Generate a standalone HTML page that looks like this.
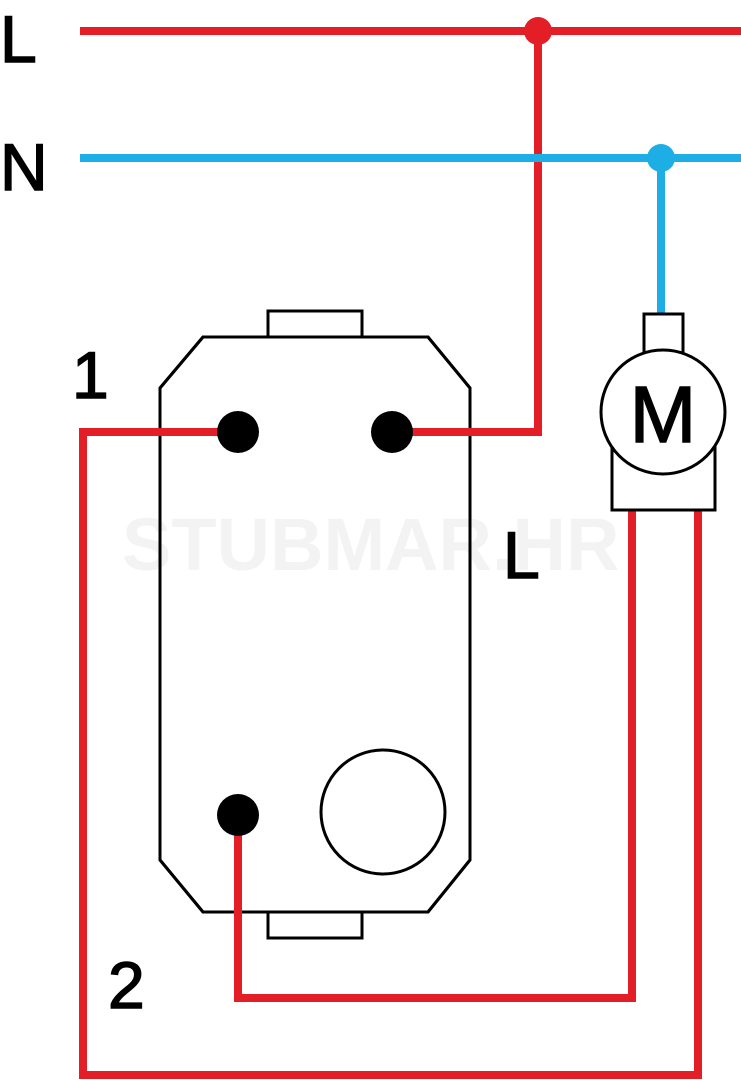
<!DOCTYPE html>
<html><head><style>html,body{margin:0;padding:0;background:#fff}svg{display:block}</style></head>
<body>
<svg width="741" height="1080" viewBox="0 0 741 1080" xmlns="http://www.w3.org/2000/svg" font-family="Liberation Sans, sans-serif">
<g fill="#fff" stroke="#000" stroke-width="3">
<rect x="268" y="311" width="94" height="30"/>
<rect x="268" y="908" width="94" height="30"/>
<polygon points="203,337 428,337 470,388 470,860 428,912 203,912 160,860 160,388"/>
</g>
<text x="122" y="570" font-size="74" font-weight="bold" fill="#f3f3f3">STUBMAR.HR</text>
<g fill="none" stroke="#000" stroke-width="3">
<polygon points="203,337 428,337 470,388 470,860 428,912 203,912 160,860 160,388"/>
<circle cx="383" cy="812" r="62" fill="#fff"/>
</g>
<g fill="none" stroke="#e41e26" stroke-width="8">
<line x1="80" y1="31" x2="741" y2="31"/>
<polyline points="538,31 538,432 392,432"/>
<polyline points="632,510 632,998 238,998 238,815"/>
<polyline points="698,510 698,1075 83,1075 83,432 238,432"/>
</g>
<g fill="none" stroke="#1eaee6" stroke-width="8">
<line x1="80" y1="158" x2="741" y2="158"/>
<line x1="661" y1="158" x2="661" y2="316"/>
</g>
<circle cx="538" cy="31" r="14" fill="#e41e26"/>
<circle cx="661" cy="158" r="14" fill="#1eaee6"/>
<g fill="#fff" stroke="#000" stroke-width="3">
<rect x="644" y="314" width="39" height="40"/>
<rect x="612" y="440" width="103" height="70"/>
<circle cx="663" cy="412" r="62"/>
</g>
<circle cx="238" cy="432" r="21" fill="#000"/>
<circle cx="392" cy="432" r="21" fill="#000"/>
<circle cx="238" cy="815" r="21" fill="#000"/>
<g fill="#000" font-size="66" stroke="#000" stroke-width="1.5">
<text x="0" y="62">L</text>
<text x="0" y="190">N</text>
<text x="72" y="398">1</text>
<text x="108" y="1008">2</text>
<text x="503" y="578">L</text>
<text x="663" y="442" text-anchor="middle" font-size="80">M</text>
</g>
</svg>
</body></html>
